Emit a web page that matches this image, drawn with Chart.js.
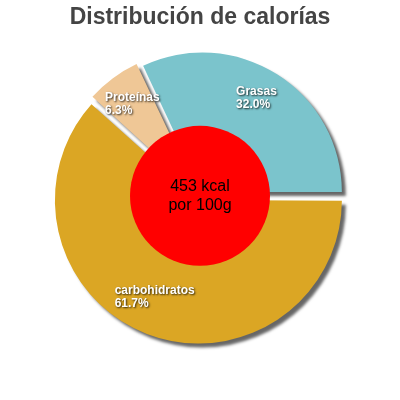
<!DOCTYPE html><html><head><meta charset="utf-8">
<script src="https://cdn.jsdelivr.net/npm/chart.js@4"></script>
<style>html,body{margin:0;background:#fff}#w{width:400px;height:400px}</style></head><body><div id="w"><canvas id="c"></canvas></div>
<script>
const categories=["Grasas","carbohidratos","Proteínas"];
const percents=[32.0,61.7,6.3];
const colors=["#7bc4cc","#dba624","#efc796"];
const labelFrac=[0.39,0.59,0.12], labelRad=[107,130,134];
const shadowPlug={id:'sh',beforeDatasetDraw(ch){const c=ch.ctx;c.save();c.shadowColor='rgba(0,0,0,0.6)';c.shadowOffsetX=4;c.shadowOffsetY=4;c.shadowBlur=3;},afterDatasetDraw(ch){ch.ctx.restore();},
afterDraw(ch){const c=ch.ctx,m=ch.getDatasetMeta(0);const cx=(ch.chartArea.left+ch.chartArea.right)/2,cy=(ch.chartArea.top+ch.chartArea.bottom)/2;
c.save();c.font='bold 12px "Liberation Sans",Arial';c.fillStyle='#fff';c.textAlign='left';c.shadowColor='rgba(0,0,0,0.8)';c.shadowBlur=2;c.shadowOffsetX=1;c.shadowOffsetY=1;
m.data.forEach((a,i)=>{const ang=a.startAngle+(a.endAngle-a.startAngle)*labelFrac[i];const x=cx+Math.cos(ang)*labelRad[i],y=cy+Math.sin(ang)*labelRad[i];
c.fillText(categories[i],x,y);c.fillText(percents[i].toFixed(1)+'%',x,y+13);});
c.restore();c.save();c.beginPath();c.arc(cx,cy,70,0,Math.PI*2);c.fillStyle='#ff0000';c.fill();
c.fillStyle='#000';c.font='16px "Liberation Sans",Arial';c.textAlign='center';c.textBaseline='middle';c.fillText('453 kcal',cx,cy-9);c.fillText('por 100g',cx,cy+10);c.restore();}};
new Chart(document.getElementById('c'),{type:'pie',data:{labels:categories,datasets:[{data:percents,backgroundColor:colors,borderWidth:0,offset:18}]},
options:{responsive:true,maintainAspectRatio:false,animation:false,rotation:-25.2,layout:{padding:{top:2,bottom:48,left:52,right:52}},
plugins:{legend:{display:false},tooltip:{enabled:false},title:{display:true,text:'Distribución de calorías',color:'#444',font:{size:23,weight:'bold',family:'"Liberation Sans",Arial'},padding:{top:2,bottom:8}}}},plugins:[shadowPlug]});
</script></body></html>
